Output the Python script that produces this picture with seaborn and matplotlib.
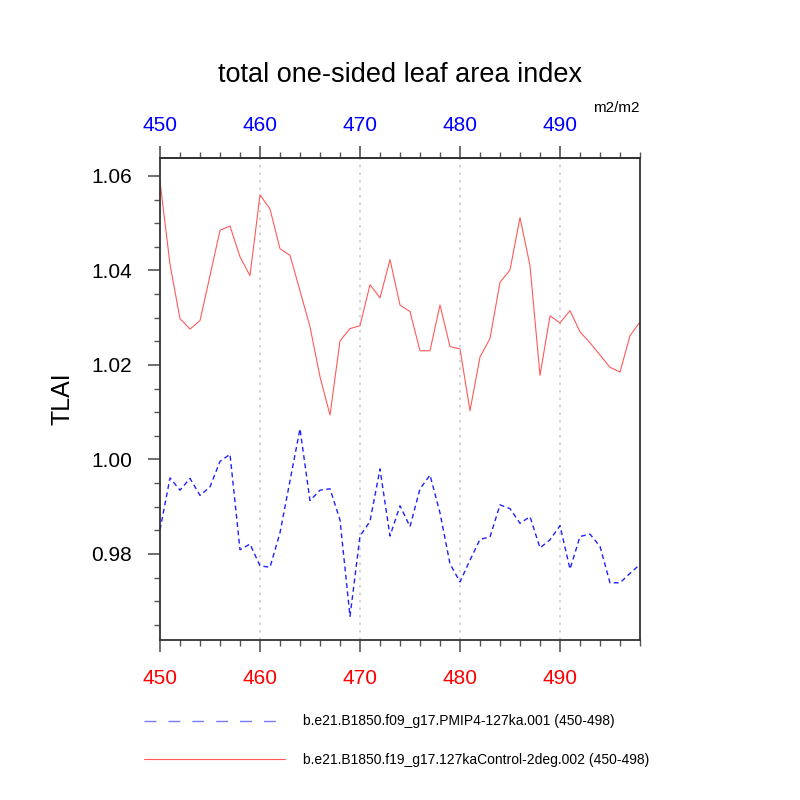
import numpy as np
import pandas as pd
import matplotlib
matplotlib.use("Agg")
import matplotlib.pyplot as plt
from matplotlib.lines import Line2D
import seaborn as sns

# anos do experimento
anos = list(range(450, 499))

# TLAI controle 2deg (linha vermelha)
controle = [1.0589, 1.0413, 1.0298, 1.0276, 1.0294, 1.0389, 1.0485, 1.0494, 1.0429, 1.0389,
            1.0560, 1.0530, 1.0446, 1.0432, 1.0357, 1.0281, 1.0175, 1.0094, 1.0251, 1.0277,
            1.0283, 1.0370, 1.0342, 1.0423, 1.0327, 1.0313, 1.0230, 1.0230, 1.0327, 1.0239,
            1.0234, 1.0103, 1.0217, 1.0256, 1.0375, 1.0401, 1.0512, 1.0410, 1.0178, 1.0304,
            1.0289, 1.0315, 1.0270, 1.0247, 1.0221, 1.0195, 1.0185, 1.0262, 1.0291]

# TLAI PMIP4 127ka (linha azul tracejada)
pmip4 = [0.9851, 0.9961, 0.9935, 0.9960, 0.9924, 0.9942, 0.9996, 1.0011, 0.9809, 0.9821,
         0.9775, 0.9772, 0.9845, 0.9955, 1.0065, 0.9913, 0.9935, 0.9938, 0.9872, 0.9668,
         0.9838, 0.9869, 0.9980, 0.9838, 0.9902, 0.9858, 0.9938, 0.9967, 0.9887, 0.9779,
         0.9741, 0.9787, 0.9831, 0.9836, 0.9904, 0.9896, 0.9865, 0.9879, 0.9813, 0.9830,
         0.9860, 0.9768, 0.9837, 0.9842, 0.9816, 0.9739, 0.9739, 0.9759, 0.9778]

nome_azul = "b.e21.B1850.f09_g17.PMIP4-127ka.001 (450-498)"
nome_vermelho = "b.e21.B1850.f19_g17.127kaControl-2deg.002 (450-498)"

dados = pd.DataFrame({"Ano": anos, "controle": controle, "pmip4": pmip4})

sns.set_theme(style="white")
plt.rcParams["font.family"] = ["Liberation Sans", "DejaVu Sans"]
plt.rcParams["text.color"] = "black"
plt.rcParams["axes.labelcolor"] = "black"

cor_vermelha = "#ff5a5a"
cor_azul = "#2020ff"

fig = plt.figure(figsize=(8, 8), dpi=100)
ax = fig.add_axes([0.2, 0.2, 0.6, 0.6025])

sns.lineplot(data=dados, x="Ano", y="controle", ax=ax, color=cor_vermelha, lw=0.8)
sns.lineplot(data=dados, x="Ano", y="pmip4", ax=ax, color=cor_azul, lw=1.0,
             dashes=False, linestyle=(0, (3.5, 2.5)))

ax.set_xlim(450, 498)
ax.set_ylim(0.9618, 1.0638)
ax.set_xticks([450, 460, 470, 480, 490])
ax.set_xticks(np.arange(450, 499, 2), minor=True)
ax.set_yticks([0.98, 1.00, 1.02, 1.04, 1.06])
ax.set_yticks(np.arange(0.965, 1.064, 0.005), minor=True)
ax.set_yticklabels(["0.98", "1.00", "1.02", "1.04", "1.06"])

for x in [460, 470, 480, 490]:
    ax.axvline(x, color="#cccccc", lw=1.2, ls=(0, (1.5, 3)), zorder=0)

for s in ax.spines.values():
    s.set_color("#333333")
    s.set_linewidth(1.3)

ax.tick_params(axis="x", which="both", bottom=True, direction="out", colors="#555555",
               labelcolor="red", labelsize=15, pad=12.5)
ax.tick_params(axis="y", which="both", left=True, direction="out", colors="#555555",
               labelcolor="black", labelsize=15, pad=11.5)
ax.tick_params(which="major", length=8.5, width=1.2)
ax.tick_params(which="minor", length=4.3, width=1.0)

topo = ax.secondary_xaxis("top")
topo.set_xticks([450, 460, 470, 480, 490])
topo.set_xticks(np.arange(450, 499, 2), minor=True)
topo.tick_params(which="both", direction="out", colors="#555555", labelcolor="blue",
                 labelsize=15, pad=8)
topo.tick_params(which="major", length=8.5, width=1.2)
topo.tick_params(which="minor", length=4.3, width=1.0)
topo.spines["top"].set_color("#333333")
topo.spines["top"].set_linewidth(1.3)

ax.set_xlabel("")
ax.set_ylabel("TLAI", fontsize=18, labelpad=12)

fig.text(0.5, 1 - 82 / 800, "total one-sided leaf area index", ha="center", va="baseline",
         fontsize=19.5)
fig.text(0.8, 1 - 108 / 800, "m2/m2", ha="right", va="center", fontsize=11)

legenda = [
    Line2D([], [], color=cor_azul, lw=1.0, alpha=0.6, ls=(0, (8.6, 8.6))),
    Line2D([], [], color=cor_vermelha, lw=0.8),
]
fig.legend(legenda, [nome_azul, nome_vermelho], loc="upper left",
           bbox_to_anchor=(144 / 800, 1 - 714.5 / 800), frameon=False, fontsize=10,
           handlelength=10.15, handletextpad=1.3, labelspacing=1.75, borderpad=0,
           borderaxespad=0)

fig.savefig("out.png", dpi=100)
